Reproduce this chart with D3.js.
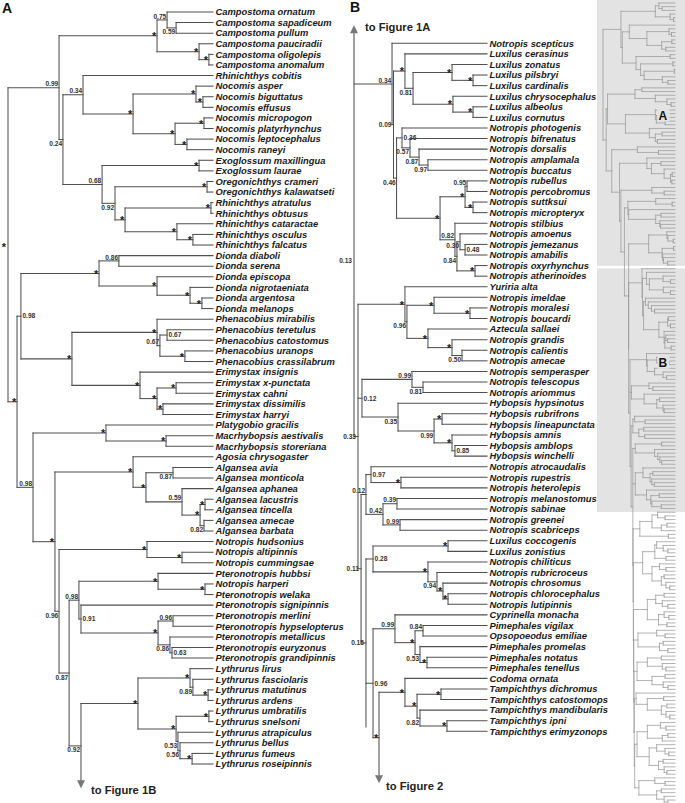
<!DOCTYPE html>
<html><head><meta charset="utf-8">
<script src="https://cdn.jsdelivr.net/npm/d3@7"></script>
<style>
body{margin:0;background:#fff}
svg{display:block}
text{font-family:"Liberation Sans",Arial,Helvetica,sans-serif}
.leaf{font-weight:bold;font-style:italic;font-size:9.4px;fill:#1a1a1a}
.sup{font-weight:bold;font-size:6.6px;fill:#333}
.star{font-weight:bold;font-size:11px;fill:#222}
.fig{font-weight:bold;font-size:11.2px;fill:#222}
.panel{font-weight:bold;font-size:14px;fill:#111}
</style></head><body><svg id="c" width="685" height="803"></svg>
<script>
// ---------------- DATA ----------------
// Trees in Newick-like form: (children)support:nodeDepth  (depth 0 = panel root, 100 = tips).
// "^r" = continuation to another figure (virtual row r, with arrow); "~r" = continuation line (virtual row r).

// Panel A
const cladeCampostoma = "((Campostoma ornatum,(Campostoma sapadiceum,Campostoma pullum)0.59:82)0.75:77.6,(Campostoma pauciradii,(Campostoma oligolepis,Campostoma anomalum)*:98)*:93.2)*:72.7";
const cladeNocomis = "(Rhinichthys cobitis,((Nocomis asper,(Nocomis biguttatus,Nocomis effusus)*:95.1)*:91.7,((Nocomis micropogon,Nocomis platyrhynchus)*:95.6,(Nocomis leptocephalus,Nocomis raneyi)*:87.3)*:81.5)*:61)0.34:36.6";
const cladeExoglossum = "((Exoglossum maxillingua,Exoglossum laurae)*:93.2,((Oregonichthys crameri,Oregonichthys kalawatseti)*:97.1,((Rhinichthys atratulus,Rhinichthys obtusus)*:99,(Rhinichthys cataractae,(Rhinichthys osculus,Rhinichthys falcatus)*:90.2)*:82.4)*:57.1)0.92:52.2)0.68:45.9";
const cladeDionda = "((Dionda diaboli,Dionda serena)0.86:54.1,(Dionda episcopa,(Dionda nigrotaeniata,(Dionda argentosa,Dionda melanops)*:94.6)*:88.8)*:72.7)*:44.4";
const cladePhenacobius = "((Phenacobius mirabilis,((Phenacobius teretulus,Phenacobius catostomus)0.67:77.6,(Phenacobius uranops,Phenacobius crassilabrum)*:86.3)0.67:74.1)*:72.7,(Erimystax insignis,((Erimystax x-punctata,Erimystax cahni)*:82,(Erimystax dissimilis,Erimystax harryi)*:75.6)*:72.7)*:64.4)*:31.2";
const cladeMacrhybopsis = "(Platygobio gracilis,(Macrhybopsis aestivalis,Macrhybopsis storeriana)*:77.1)*:47.8";
const cladeAlgansea = "(Agosia chrysogaster,((Algansea avia,Algansea monticola)0.87:80.5,(Algansea aphanea,((Algansea lacustris,Algansea tincella)*:96.1,(Algansea amecae,Algansea barbata)0.82:95.6)*:93.7)0.59:84.9)*:67.3)*:61";
const cladeHudsonius = "(Notropis hudsonius,(Notropis altipinnis,Notropis cummingsae)*:84.9)*:67.8";
const cladePteronotropis = "((Pteronotropis hubbsi,(Notropis harperi,Pteronotropis welaka)*:96.1)*:73.2,(Pteronotropis signipinnis,((Pteronotropis merlini,Pteronotropis hypselopterus)0.96:80.5,(Pteronotropis metallicus,(Pteronotropis euryzonus,Pteronotropis grandipinnis)0.63:80)0.86:79)*:73.2)0.91:35.6)0.98:34.6";
const cladeLythrurus = "((Lythrurus lirus,(Lythrurus fasciolaris,(Lythrurus matutinus,Lythrurus ardens)*:97.6)0.89:90.2)*:88.8,((Lythrurus umbratilis,Lythrurus snelsoni)*:98,(Lythrurus atrapiculus,(Lythrurus bellus,(Lythrurus fumeus,Lythrurus roseipinnis)*:89.8)0.56:83.9)0.53:82.9)*:82)*:63.4";
const treeA = `((${cladeCampostoma},(${cladeNocomis},${cladeExoglossum})0.24:26.8)0.99:24.9,((${cladeDionda},${cladePhenacobius})0.98:6.3,(${cladeMacrhybopsis},(${cladeAlgansea},(${cladeHudsonius},(${cladePteronotropis},(${cladeLythrurus},^74.3)0.92:35.6)0.87:29.8)0.96:24.9)*:22.9)0.98:12.2)*:4.4)*:0`;

// Panel B
const cladeLuxilus = "(Notropis scepticus,((Luxilus cerasinus,((Luxilus zonatus,(Luxilus pilsbryi,Luxilus cardinalis)*:89.5)*:73.7,(Luxilus chrysocephalus,(Luxilus albeolus,Luxilus cornutus)*:89.5)*:74.4)0.81:44.4)*:38.3,((Notropis photogenis,(Notropis bifrenatus,(Notropis dorsalis,(Notropis amplamala,Notropis buccatus)0.97:55.6)0.87:48.9)0.57:42.1)0.36:36.1,(((Notropis rubellus,Notropis percobromus)0.95:85,(Notropis suttksui,Notropis micropteryx)*:89.5)*:83.5,(Notropis stilbius,((Notropis amoenus,(Notropis jemezanus,Notropis amabilis)0.48:83.5)0.30:79.7,(Notropis oxyrhynchus,Notropis atherinoides)*:91)0.84:77.4)0.82:75.9)*:64.7)0.46:32)0.09:29.7)0.34:28.6";
const cladeYuriria = "(Yuriria alta,((Notropis imeldae,(Notropis moralesi,Notropis boucardi)*:87.2)*:60.2,(Aztecula sallaei,(Notropis grandis,(Notropis calientis,Notropis amecae)0.50:81.2)*:73.7)*:55.6)0.96:39.8)*:38.3";
const cladeHybopsis = "((Notropis semperasper,(Notropis telescopus,Notropis ariommus)0.81:51.9)0.99:43.6,(Hybopsis hypsinotus,((Hybopsis rubrifrons,Hybopsis lineapunctata)*:66.2,(Hybopsis amnis,(Hybopsis amblops,Hybopsis winchelli)0.85:75.9)*:73.7)0.99:60.2)0.35:33.1)0.12:6";
const cladeRupestris = "((Notropis atrocaudalis,(Notropis rupestris,Notropis heterolepis)*:35.3)0.97:12.8,((Notropis melanostomus,Notropis sabinae)0.39:32.3,(Notropis greenei,Notropis scabriceps)0.99:34.6)0.42:21.8)0.12:9";
const cladeChrosomus = "((Luxilus coccogenis,Luxilus zonistius)*:70.7,(Notropis chiliticus,(Notropis rubricroceus,(Notropis chrosomus,(Notropis chlorocephalus,Notropis lutipinnis)*:70.7)*:66.9)0.94:62.4)*:55.6)0.28:14.3";
const cladePimephales = "(Cyprinella monacha,((Pimephales vigilax,Opsopoeodus emiliae)0.84:51.9,(Pimephales promelas,(Pimephales notatus,Pimephales tenellus)*:54.9)0.53:49.6)*:45.9)0.99:30.8";
const cladeTampichthys = "(Codoma ornata,((Tampichthys dichromus,Tampichthys catostomops)*:65.4,(Tampichthys mandibularis,(Tampichthys ipni,Tampichthys erimyzonops)*:69.9)0.82:49.6)*:47.4)*:38.3";
const treeB = `(${cladeLuxilus},(${cladeYuriria},${cladeHybopsis},(${cladeRupestris},(${cladeChrosomus},(${cladePimephales},(${cladeTampichthys},^70.9)*:18.8)0.96:14.3,~65.6)0.15:9)0.11:5.3)0.33:3)0.13:0`;

// Overview thumbnail: rough outline of the Figure 2 part (depths in panel-B units)
const fig2Clades = [
  "(((x,(x,x):78):62,((x,x):82,x):70):50,(x,x):85):24",
  "(((x,(x,(x,x):84):74):60,(x,x):80):56,((x,(x,x):80):66,((x,x):76,(x,(x,x):88):80):70):50):30",
  "(((x,x):76,(x,(x,x):84):72):58,((x,(x,x):86):76,(x,x):82):64):40",
  "((x,(x,x):78):60,((x,x):74,(x,x):84):66):20",
  "(((x,x):70,(x,(x,x):80):72):40,((x,x):78,(x,(x,x):84):74):50):18",
  "(x,((x,x):75,((x,x):82,(x,(x,x):88):80):70):40):16",
  "(((x,(x,x):80):68,((x,x):84,x):72):40,((x,(x,(x,x):86):78):60,((x,x):74,(x,(x,x):82):76):64):44):18",
  "((x,(x,x):78):56,((x,x):70,(x,(x,x):84):76):60):22"
];
const fig2Backbone = [9.5, 10, 10.5, 11, 11.5, 12, 13];

// Figure texts
const panelLabels = ["A", "B"];
const arrowTexts = ["to Figure 1B", "to Figure 1A", "to Figure 2"];

// ---------------- STYLE (label placement exceptions) ----------------
const placeA = {
  left: ["*|Campostoma ornatum|Lythrurus roseipinnis"],
  below: ["0.24|Rhinichthys cobitis|Rhinichthys falcatus","0.59|Campostoma sapadiceum|Campostoma pullum","0.92|Oregonichthys crameri|Rhinichthys falcatus","0.87|Algansea avia|Algansea monticola","0.82|Algansea amecae|Algansea barbata","0.96|Notropis hudsonius|Lythrurus roseipinnis","0.86|Pteronotropis metallicus|Pteronotropis grandipinnis","0.87|Pteronotropis hubbsi|Lythrurus roseipinnis","0.92|Lythrurus lirus|Lythrurus roseipinnis","0.89|Lythrurus fasciolaris|Lythrurus ardens","0.53|Lythrurus atrapiculus|Lythrurus roseipinnis","0.56|Lythrurus bellus|Lythrurus roseipinnis"],
  right: ["0.98|Dionda diaboli|Erimystax harryi","0.67|Phenacobius teretulus|Phenacobius catostomus","0.91|Pteronotropis signipinnis|Pteronotropis grandipinnis","0.63|Pteronotropis euryzonus|Pteronotropis grandipinnis"]
};
const placeB = {
  left: ["0.13|Notropis scepticus|Tampichthys erimyzonops","0.09|Luxilus cerasinus|Notropis atherinoides","0.33|Yuriria alta|Tampichthys erimyzonops","0.11|Notropis atrocaudalis|Tampichthys erimyzonops","0.15|Luxilus coccogenis|Tampichthys erimyzonops"],
  below: ["0.81|Luxilus zonatus|Luxilus cornutus","0.46|Notropis photogenis|Notropis atherinoides","0.57|Notropis bifrenatus|Notropis buccatus","0.87|Notropis dorsalis|Notropis buccatus","0.97|Notropis amplamala|Notropis buccatus","0.30|Notropis amoenus|Notropis amabilis","0.84|Notropis amoenus|Notropis atherinoides","0.96|Notropis imeldae|Notropis amecae","0.50|Notropis calientis|Notropis amecae","0.81|Notropis telescopus|Notropis ariommus","0.35|Hybopsis hypsinotus|Hybopsis winchelli","0.99|Hybopsis rubrifrons|Hybopsis winchelli","0.94|Notropis rubricroceus|Notropis lutipinnis","0.53|Pimephales promelas|Pimephales tenellus","0.82|Tampichthys mandibularis|Tampichthys erimyzonops"],
  right: ["0.36|Notropis photogenis|Notropis buccatus","0.48|Notropis jemezanus|Notropis amabilis","0.12|Notropis semperasper|Hybopsis winchelli","0.85|Hybopsis amblops|Hybopsis winchelli","0.97|Notropis atrocaudalis|Notropis heterolepis","0.28|Luxilus coccogenis|Notropis lutipinnis","0.96|Cyprinella monacha|Tampichthys erimyzonops"]
};

// ---------------- PARSING / LAYOUT ----------------
function parseTree(src, depthMap = d => d) {
  const str = src.replace(/\s*([(),:])\s*/g, "$1");
  let i = 0;
  const readUntil = stops => { let s = ""; while (i < str.length && !stops.includes(str[i])) s += str[i++]; return s.trim(); };
  function node() {
    if (str[i] === "(") {
      i++;
      const children = [node()];
      while (str[i] === ",") { i++; children.push(node()); }
      i++;
      const label = readUntil(":,)");
      let depth = 0;
      if (str[i] === ":") { i++; depth = +readUntil(",)"); }
      return { children, label, depth: depthMap(depth) };
    }
    const name = readUntil(",)");
    if (name[0] === "^" || name[0] === "~") return { pseudo: name[0], row: +name.slice(1) };
    return { name };
  }
  return node();
}
function countLeaves(d) { return d.children ? d.children.reduce((s, c) => s + countLeaves(c), 0) : (d.pseudo ? 0 : 1); }

function layout(data, x, y) {
  const h = d3.hierarchy(data, d => d.children);
  let r = 0;
  h.leaves().forEach(l => { l.y = l.data.pseudo ? y(l.data.row) : y(++r); });
  h.eachAfter(n => { if (n.children) n.y = (n.children[0].y + n.children[n.children.length - 1].y) / 2; });
  h.each(n => {
    if (n.children) n.x = x(n.data.depth);
    else if (n.data.pseudo) n.x = x(n.parent.data.depth);
    else n.x = x(100);
  });
  return h;
}

const svg = d3.select("#c");
const ARROW = 8;

function drawBranches(g, h, stroke, width, arrows) {
  const segs = [];
  h.each(n => {
    if (n.parent && !n.data.pseudo) segs.push([n.parent.x, n.y, n.x, n.y]);
    if (n.children && n.children.length > 1) {
      const last = n.children[n.children.length - 1];
      const yEnd = (arrows && last.data.pseudo === "^") ? last.y - ARROW : last.y;
      segs.push([n.x, n.children[0].y, n.x, yEnd]);
    }
  });
  g.selectAll(null).data(segs).join("line")
    .attr("x1", d => d[0]).attr("y1", d => d[1]).attr("x2", d => d[2]).attr("y2", d => d[3])
    .attr("stroke", stroke).attr("stroke-width", width).attr("stroke-linecap", "square");
}
function arrowHead(g, x, tipY, dir) {
  const b = tipY - dir * ARROW;
  g.append("path").attr("d", `M${x - 4},${b}L${x + 4},${b}L${x},${tipY}Z`).attr("fill", "#777");
}
function keyOf(n) {
  const lv = n.leaves().filter(l => l.data.name);
  return n.data.label + "|" + lv[0].data.name + "|" + lv[lv.length - 1].data.name;
}
function drawPanel(h, place) {
  const g = svg.append("g");
  drawBranches(g, h, "#505050", 1.05, true);
  g.selectAll(null).data(h.leaves().filter(l => l.data.name)).join("text")
    .attr("class", "leaf").attr("x", d => d.x + 2.5).attr("y", d => d.y + 3.3).text(d => d.data.name);
  const lookup = {};
  Object.entries(place).forEach(([k, arr]) => arr.forEach(s => lookup[s] = k));
  const sup = h.descendants().filter(n => n.children && n.data.label);
  g.selectAll(null).data(sup).join("text")
    .each(function (n) {
      const p = lookup[keyOf(n)] || "above";
      const star = n.data.label === "*";
      let x = n.x - 0.8, y = n.y + (star ? 4.3 : -1.4), a = "end";
      if (p === "below") { y = n.y + (star ? 9.5 : 6.6); }
      else if (p === "right") { x = n.x + 1.5; y = n.y + (star ? 6.3 : 2.3); a = "start"; }
      else if (p === "left") { x = n.x - 2; y = n.y + (star ? 6.3 : 2.3); }
      d3.select(this).attr("class", star ? "star" : "sup").attr("x", x).attr("y", y)
        .attr("text-anchor", a).text(n.data.label);
    });
  h.leaves().filter(l => l.data.pseudo === "^").forEach(l => arrowHead(g, l.x, l.y, 1));
  return g;
}

// ---------------- PANEL A ----------------
const dataA = parseTree(treeA);
const nA = countLeaves(dataA);
const xA = d3.scaleLinear().domain([0, 100]).range([8, 213]);
const yA = d3.scaleLinear().domain([1, nA]).range([12, 764]);
const hA = layout(dataA, xA, yA);
const gA = drawPanel(hA, placeA);
hA.leaves().filter(l => l.data.pseudo === "^").forEach(l => {
  gA.append("text").attr("class", "fig").attr("x", l.x + 10).attr("y", l.y + 6).text(arrowTexts[0]);
});
svg.append("text").attr("class", "panel").attr("x", xA(0) - 6).attr("y", 13).text(panelLabels[0]);

// ---------------- PANEL B ----------------
const dataB = parseTree(treeB);
const nB = countLeaves(dataB);
const xB = d3.scaleLinear().domain([0, 100]).range([354, 487]);
const yB = d3.scaleLinear().domain([1, nB]).range([43.3, 731.3]);
const hB = layout(dataB, xB, yB);
const gB = drawPanel(hB, placeB);
{
  const tip = yB(1) - 18;
  gB.append("line").attr("x1", hB.x).attr("x2", hB.x).attr("y1", tip + ARROW).attr("y2", hB.children[0].y)
    .attr("stroke", "#777").attr("stroke-width", 1.4);
  arrowHead(gB, hB.x, tip, -1);
  gB.append("text").attr("class", "fig").attr("x", hB.x + 11).attr("y", tip + 6).text(arrowTexts[1]);
  hB.leaves().filter(l => l.data.pseudo === "^").forEach(l => {
    gB.append("text").attr("class", "fig").attr("x", l.x + 7).attr("y", l.y + 7).text(arrowTexts[2]);
  });
}
svg.append("text").attr("class", "panel").attr("x", xB(0) - 4).attr("y", 12).text(panelLabels[1]);

// ---------------- OVERVIEW THUMBNAIL ----------------
{
  const tA = parseTree(treeA);
  let attachDepth = 0;
  (function find(d) { if (d.children) d.children.forEach(c => { if (c.pseudo === "^") attachDepth = d.depth; find(c); }); })(tA);
  const ratio = (xB.range()[1] - xB.range()[0]) / (xA.range()[1] - xA.range()[0]);
  const mapB = b => attachDepth + b * ratio;
  const tB = parseTree(treeB, mapB);
  let f2 = fig2Clades[fig2Clades.length - 1];
  for (let k = fig2Clades.length - 2; k >= 0; k--) f2 = `(${fig2Clades[k]},${f2}):${fig2Backbone[k]}`;
  const tF = parseTree(f2, mapB);
  (function splice(d) {
    if (!d.children) return;
    d.children = d.children.map(c => c.pseudo === "~" ? tF : c).filter(c => c.pseudo !== "^");
    d.children.forEach(splice);
  })(tB);
  (function splice(d) {
    if (!d.children) return;
    d.children = d.children.map(c => c.pseudo === "^" ? tB : c);
    d.children.forEach(splice);
  })(tA);
  const nT = countLeaves(tA);
  const xT = d3.scaleLinear().domain([0, 100]).range([603, 675]);
  const yT = d3.scaleLinear().domain([1, nT]).range([3, 3 + (nT - 1) * 3.69]);
  const left = xT(0) - 6;
  const gT = svg.append("g");
  gT.append("rect").attr("x", left).attr("y", 0).attr("width", 685 - left).attr("height", yT(nA + 0.5) - 1).attr("fill", "#e3e3e3");
  gT.append("rect").attr("x", left).attr("y", yT(nA + 0.5) + 1.6).attr("width", 685 - left)
    .attr("height", yT(nA + nB + 0.5) - yT(nA + 0.5)).attr("fill", "#e3e3e3");
  const hT = layout(tA, xT, yT);
  drawBranches(gT, hT, "#9a9a9a", 0.75, false);
  [[panelLabels[0], yT(31.5) + 4], [panelLabels[1], yT(98.5) + 4]].forEach(([t, y]) => {
    gT.append("rect").attr("x", xT(77) - 1).attr("y", y - 11).attr("width", 12).attr("height", 13).attr("fill", "#e3e3e3");
    gT.append("text").attr("x", xT(77)).attr("y", y).attr("font-weight", "bold").attr("font-size", 12).attr("fill", "#111").text(t);
  });
}
</script></body></html>
